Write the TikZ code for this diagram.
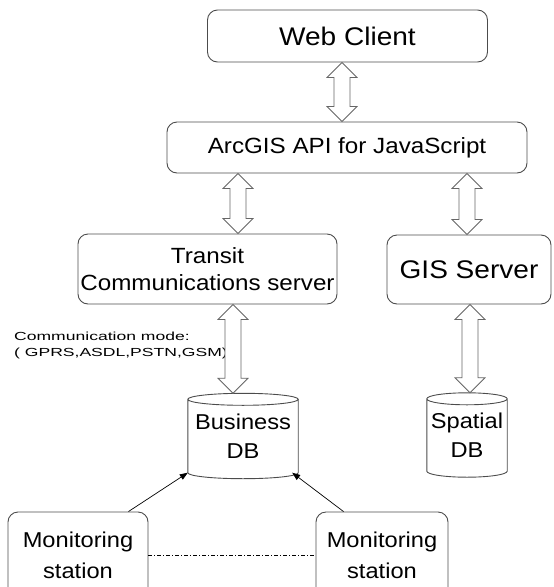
\documentclass[tikz,border=0pt]{standalone}
\usepackage{fontspec}
\setmainfont{Liberation Sans}[FakeStretch=1.1]
\newfontfamily\widefont{Liberation Sans}[FakeStretch=1.5]
\usepackage{tikz}
\usetikzlibrary{calc}
\usetikzlibrary{arrows.meta}

\tikzset{
  block/.style={draw=black!70,line width=0.9pt,rounded corners=10pt,align=center,inner sep=0pt},
  dbbox/.style={inner sep=0pt,align=center},
  canline/.style={draw=black!70,line width=0.9pt},
  fatline/.style={draw=black!60,line width=0.8pt,fill=white},
  feed/.style={-{Triangle[length=8pt,width=6pt]},line width=0.7pt},
  linkline/.style={dash pattern=on 4pt off 2pt on 1pt off 2pt,line width=0.6pt},
}

% hollow two-headed arrow: x, upper anchor, lower anchor
\newcommand{\fatarrow}[3]{%
  \draw[fatline] let \p1=(#2), \p2=(#3) in
    (#1pt,\y1) -- (#1pt+15pt,\y1-15pt) -- (#1pt+8pt,\y1-15pt) -- (#1pt+8pt,\y2+15pt)
    -- (#1pt+15pt,\y2+15pt) -- (#1pt,\y2) -- (#1pt-15pt,\y2+15pt) -- (#1pt-8pt,\y2+15pt)
    -- (#1pt-8pt,\y1-15pt) -- (#1pt-15pt,\y1-15pt) -- cycle;}

% database drum round a node
\newcommand{\dbcan}[1]{%
  \draw[canline] let \p1=(#1.north west), \p2=(#1.south east), \n1={(\x2-\x1)/2} in
    (\x1,\y1-6pt) arc[start angle=180,end angle=-180,x radius=\n1,y radius=6pt]
    (\x1,\y1-6pt) -- (\x1,\y2+6pt) arc[start angle=180,end angle=360,x radius=\n1,y radius=6pt]
    -- (\x2,\y1-6pt);}

\begin{document}
\begin{tikzpicture}[x=1pt,y=-1pt]
                \useasboundingbox (0,0) rectangle (554,587);
                \node[block,minimum width=280pt,minimum height=52pt,font=\fontsize{25.5}{30}\selectfont] (web) at (347.5,36) {Web Client};
                \node[block,minimum width=360pt,minimum height=51pt,font=\fontsize{22}{27}\selectfont] (api) at (347,147.5) {ArcGIS API for JavaScript};
                \node[block,minimum width=259pt,minimum height=70pt,font=\fontsize{22}{27}\selectfont] (transit) at (207.5,269) {Transit\\Communications server};
                \node[block,minimum width=164pt,minimum height=69pt,font=\fontsize{25.5}{30}\selectfont] (gis) at (469,269.5) {GIS Server};
                \node[dbbox,minimum width=110pt,minimum height=85pt,font=\fontsize{21.5}{29}\selectfont] (business) at (243,436) {Business\\DB};
                \node[dbbox,minimum width=80pt,minimum height=84pt,font=\fontsize{21.5}{29}\selectfont] (spatial) at (467,435) {Spatial\\DB};
                \dbcan{business}
                \dbcan{spatial}
                \node[block,minimum width=140pt,minimum height=86pt,font=\fontsize{21.5}{31}\selectfont] (ms1) at (78,555) {Monitoring\\station};
                \node[block,minimum width=132pt,minimum height=86pt,font=\fontsize{21.5}{31}\selectfont] (ms2) at (382,555) {Monitoring\\station};
                \node[anchor=west,align=left,inner sep=0pt,font=\widefont\fontsize{11.7}{16}\selectfont] (mode) at (14,345) {Communication mode:\\( GPRS,ASDL,PSTN,GSM)};
                \fatarrow{342}{web.south}{api.north}
                \fatarrow{238}{api.south}{transit.north}
                \fatarrow{467}{api.south}{gis.north}
                \fatarrow{233}{transit.south}{business.north}
                \fatarrow{470}{gis.south}{spatial.north}
                \draw[feed] ([xshift=-20pt]ms1.north east) -- ([yshift=6pt]business.south west);
                \draw[feed] ([xshift=28pt]ms2.north west) -- ([xshift=-6pt,yshift=6pt]business.south east);
                \draw[linkline] (ms1.east) -- (ms2.west);
            \end{tikzpicture}
\end{document}
